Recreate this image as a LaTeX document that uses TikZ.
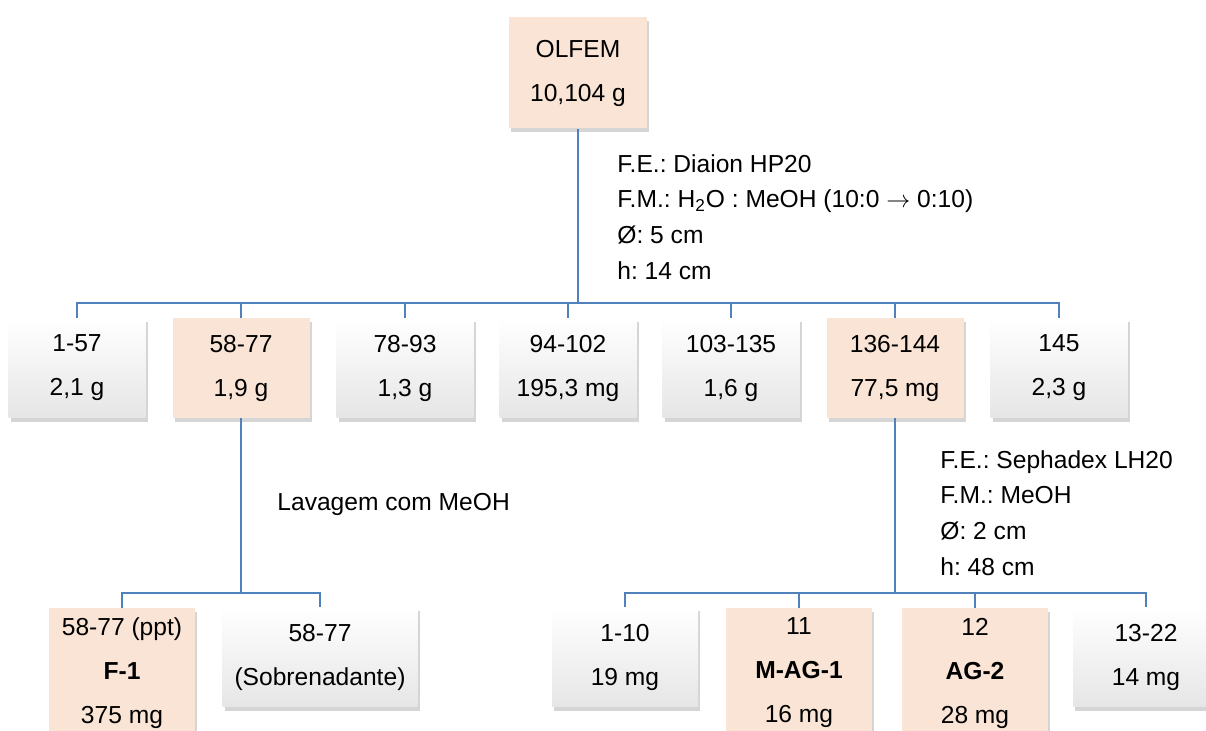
\documentclass[tikz,border=0pt]{standalone}
\usepackage{fontspec}
\setmainfont{Liberation Sans}
\usetikzlibrary{shadows}
\definecolor{Peach}{HTML}{FAE4D6}
\definecolor{LinkBlue}{HTML}{4F81BD}
\newcommand{\boxfont}{\fontsize{12.3}{22}\selectfont}
\newcommand{\notefont}{\fontsize{12.3}{17.8}\selectfont}
\frenchspacing

\tikzset{
  fracbox/.style={align=center, inner sep=0pt, minimum width=68.5pt, minimum height=50pt, font=\boxfont,
    drop shadow={shadow xshift=1pt, shadow yshift=-2pt, opacity=0.3, fill=black!55}},
  plainbox/.style={fracbox, top color=white, middle color=white, bottom color=black!10},
  hitbox/.style={fracbox, fill=Peach},
  link/.style={LinkBlue, line width=1.2pt},
  note/.style={align=left, anchor=north west, inner sep=0pt, font=\notefont}
}

\begin{document}
\begin{tikzpicture}[x=0.5pt, y=-0.5pt]
    \clip (0,0) rectangle (1206,731);

    % Extract
    \node[hitbox, minimum width=69pt, minimum height=55.5pt] (olfem) at (578,73) {OLFEM\\10,104 g};

    % First column: fractions
    \node[plainbox] (f1) at (77,368) {1-57\\2,1 g};
    \node[hitbox] (f2) at (241,368) {58-77\\1,9 g};
    \node[plainbox] (f3) at (405,368) {78-93\\1,3 g};
    \node[plainbox] (f4) at (568,368) {94-102\\195,3 mg};
    \node[plainbox] (f5) at (731,368) {103-135\\1,6 g};
    \node[hitbox] (f6) at (895,368) {136-144\\77,5 mg};
    \node[plainbox] (f7) at (1059,368) {145\\2,3 g};

    \coordinate (split1) at (578,303);
    \draw[link] (olfem.south) -- (split1);
    \foreach \n in {f1,f2,f3,f4,f5,f6,f7}
        \draw[link] (split1) -| (\n.north);
    \node[note] (col1) at (617,154) {F.E.: Diaion HP20\\F.M.: H\textsubscript{2}O : MeOH (10:0 \ensuremath{\rightarrow} 0:10)\\Ø: 5 cm\\h: 14 cm};

    % Washing of 58-77
    \coordinate (split2) at (241,593);
    \draw[link] (f2.south) -- (split2);
    \node[note, anchor=base west] (wash) at (277,511) {Lavagem com MeOH};
    \node[hitbox, minimum width=73pt, minimum height=65pt] (ppt) at (122,673) {58-77 (ppt)\\\textbf{F-1}\\375 mg};
    \node[plainbox, minimum width=97.5pt] (sob) at (320,657) {58-77\\(Sobrenadante)};
    \foreach \n in {ppt,sob}
        \draw[link] (split2) -| (\n.north);

    % Second column: 136-144
    \coordinate (split3) at (895,593);
    \draw[link] (f6.south) -- (split3);
    \node[note] (col2) at (940,450) {F.E.: Sephadex LH20\\F.M.: MeOH\\Ø: 2 cm\\h: 48 cm};
    \node[plainbox, minimum width=73pt] (s1) at (625,657) {1-10\\19 mg};
    \node[hitbox, minimum width=73pt, minimum height=65pt] (s2) at (799,673) {11\\\textbf{M-AG-1}\\16 mg};
    \node[hitbox, minimum width=73pt, minimum height=65pt] (s3) at (975,673) {12\\\textbf{AG-2}\\28 mg};
    \node[plainbox, minimum width=73pt] (s4) at (1146,657) {13-22\\14 mg};
    \foreach \n in {s1,s2,s3,s4}
        \draw[link] (split3) -| (\n.north);
\end{tikzpicture}
\end{document}
